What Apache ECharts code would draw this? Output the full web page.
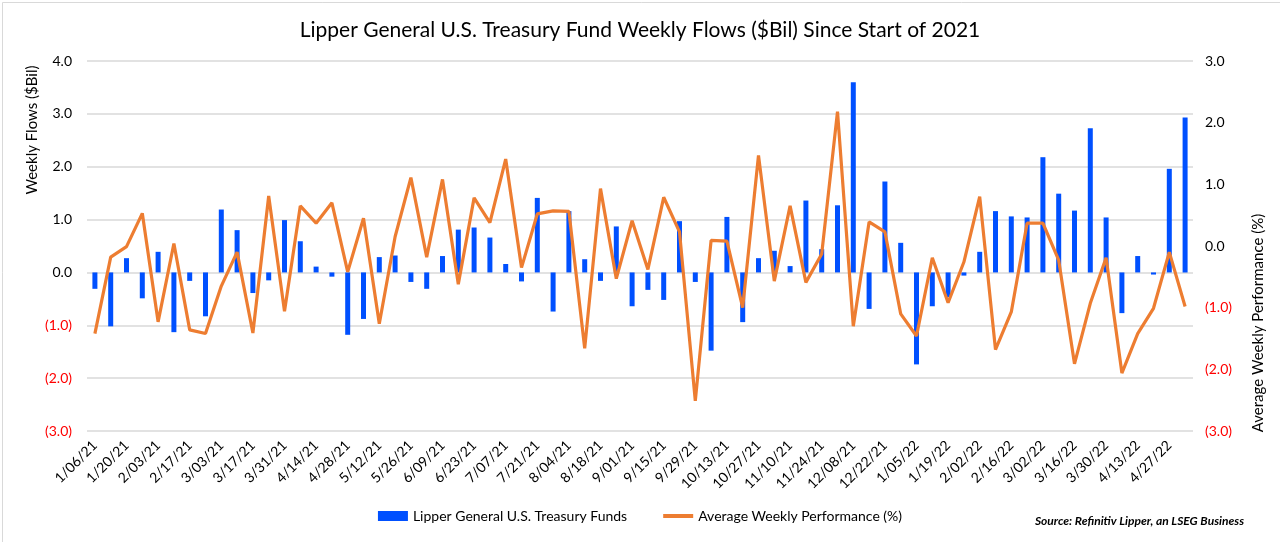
<!DOCTYPE html>
<html>
<head>
<meta charset="utf-8">
<script src="https://cdn.jsdelivr.net/npm/echarts@6/dist/echarts.min.js"></script>
<style>
html,body{margin:0;padding:0;background:#fff;}
#chart{width:1280px;height:542px;}
</style>
</head>
<body>
<div id="chart"></div>
<script>
const categories = [
  "1/06/21","1/13/21","1/20/21","1/27/21","2/03/21","2/10/21","2/17/21","2/24/21",
  "3/03/21","3/10/21","3/17/21","3/24/21","3/31/21","4/07/21","4/14/21","4/21/21","4/28/21",
  "5/05/21","5/12/21","5/19/21","5/26/21","6/02/21","6/09/21","6/16/21","6/23/21","6/30/21",
  "7/07/21","7/14/21","7/21/21","7/28/21","8/04/21","8/11/21","8/18/21","8/25/21",
  "9/01/21","9/08/21","9/15/21","9/22/21","9/29/21","10/06/21","10/13/21","10/20/21","10/27/21",
  "11/03/21","11/10/21","11/17/21","11/24/21","12/01/21","12/08/21","12/15/21","12/22/21","12/29/21",
  "1/05/22","1/12/22","1/19/22","1/26/22","2/02/22","2/09/22","2/16/22","2/23/22",
  "3/02/22","3/09/22","3/16/22","3/23/22","3/30/22","4/06/22","4/13/22","4/20/22","4/27/22","5/04/22"
];
const flows = [
  -0.31,-1.02,0.27,-0.49,0.39,-1.13,-0.16,-0.83,
  1.19,0.80,-0.39,-0.15,0.99,0.59,0.11,-0.08,-1.18,
  -0.88,0.29,0.32,-0.18,-0.31,0.31,0.81,0.85,0.66,
  0.16,-0.17,1.41,-0.74,1.16,0.25,-0.16,0.87,
  -0.64,-0.33,-0.52,0.97,-0.18,-1.48,1.05,-0.94,0.27,
  0.41,0.12,1.36,0.44,1.27,3.60,-0.69,1.72,0.56,
  -1.74,-0.64,-0.47,-0.06,0.39,1.16,1.06,1.04,
  2.18,1.49,1.17,2.73,1.04,-0.77,0.31,-0.04,1.96,2.93
];
const performance = [
  -1.42,-0.18,-0.01,0.53,-1.23,0.04,-1.36,-1.42,
  -0.65,-0.10,-1.41,0.81,-1.06,0.65,0.37,0.70,-0.42,
  0.45,-1.26,0.15,1.11,-0.18,1.08,-0.62,0.78,0.38,
  1.41,-0.35,0.52,0.57,0.56,-1.66,0.93,-0.53,
  0.41,-0.38,0.79,0.23,-2.51,0.09,0.08,-1.00,1.47,
  -0.57,0.65,-0.59,-0.13,2.18,-1.30,0.39,0.23,-1.10,
  -1.46,-0.19,-0.92,-0.26,0.80,-1.68,-1.07,0.37,
  0.37,-0.23,-1.91,-0.93,-0.19,-2.06,-1.42,-1.01,-0.10,-0.98
];
const seriesNames = ["Lipper General U.S. Treasury Funds", "Average Weekly Performance (%)"];
const leftAxisRange = [-3, 4];
const rightAxisRange = [-3, 3];

const FONT = "Lato";
function fmt(v) {
  if (v < 0) return "{neg|(" + Math.abs(v).toFixed(1) + ")}";
  return "{pos|" + v.toFixed(1) + "}";
}
const labelRich = {
  neg: { color: "#ff0000", fontSize: 14, fontFamily: FONT },
  pos: { color: "#000000", fontSize: 14, fontFamily: FONT }
};

const chart = echarts.init(document.getElementById("chart"), null, { renderer: "canvas" });
chart.setOption({
  backgroundColor: "#ffffff",
  animation: false,
  title: {
    text: "Lipper General U.S. Treasury Fund Weekly Flows ($Bil) Since Start of 2021",
    left: "center",
    top: 15,
    textStyle: { fontFamily: FONT, fontSize: 21, fontWeight: "normal", color: "#000" }
  },
  grid: { left: 87, right: 87, top: 61, bottom: 111, containLabel: false },
  legend: {
    bottom: 14,
    left: "center",
    itemGap: 36,
    itemWidth: 30,
    itemHeight: 10,
    textStyle: { fontFamily: FONT, fontSize: 14, color: "#000" },
    data: [
      { name: seriesNames[0], icon: "rect" },
      { name: seriesNames[1], icon: "path://M0,0 L30,0 L30,4 L0,4 Z" }
    ]
  },
  xAxis: {
    type: "category",
    data: categories,
    boundaryGap: true,
    axisLine: { show: false },
    axisTick: { show: false },
    axisLabel: {
      interval: 1,
      rotate: 45,
      margin: 12,
      fontFamily: FONT,
      fontSize: 14,
      color: "#000"
    }
  },
  yAxis: [
    {
      type: "value",
      min: leftAxisRange[0],
      max: leftAxisRange[1],
      interval: 1,
      axisLine: { show: false },
      axisTick: { show: false },
      splitLine: { lineStyle: { color: "#d9d9d9", width: 1.5 } },
      axisLabel: { margin: 15, formatter: fmt, rich: labelRich }
    },
    {
      type: "value",
      min: rightAxisRange[0],
      max: rightAxisRange[1],
      interval: 1,
      axisLine: { show: false },
      axisTick: { show: false },
      splitLine: { show: false },
      axisLabel: { margin: 12, formatter: fmt, rich: labelRich }
    }
  ],
  series: [
    {
      name: seriesNames[0],
      type: "bar",
      yAxisIndex: 0,
      data: flows,
      barWidth: 5,
      itemStyle: { color: "#0050ff" }
    },
    {
      name: seriesNames[1],
      type: "line",
      yAxisIndex: 1,
      data: performance,
      showSymbol: false,
      symbol: "none",
      lineStyle: { color: "#ED7D31", width: 3.2 },
      itemStyle: { color: "#ED7D31" }
    }
  ],
  graphic: [
    {
      type: "rect",
      left: 0, top: 0,
      shape: { width: 1279, height: 541 },
      style: { fill: "none", stroke: "#d9d9d9", lineWidth: 1 },
      silent: true
    },
    {
      type: "text",
      x: 32, y: 130,
      rotation: Math.PI / 2,
      style: {
        text: "Weekly Flows ($Bil)",
        fontFamily: FONT, fontSize: 15, fill: "#000",
        align: "center", verticalAlign: "middle"
      }
    },
    {
      type: "text",
      x: 1258, y: 323,
      rotation: Math.PI / 2,
      style: {
        text: "Average Weekly Performance (%)",
        fontFamily: FONT, fontSize: 15, fill: "#000",
        align: "center", verticalAlign: "middle"
      }
    },
    {
      type: "text",
      right: 36, top: 515,
      style: {
        text: "Source: Refinitiv Lipper, an LSEG Business",
        fontFamily: FONT, fontSize: 12, fontWeight: "bold", fontStyle: "italic", fill: "#000"
      }
    }
  ]
});
</script>
</body>
</html>
